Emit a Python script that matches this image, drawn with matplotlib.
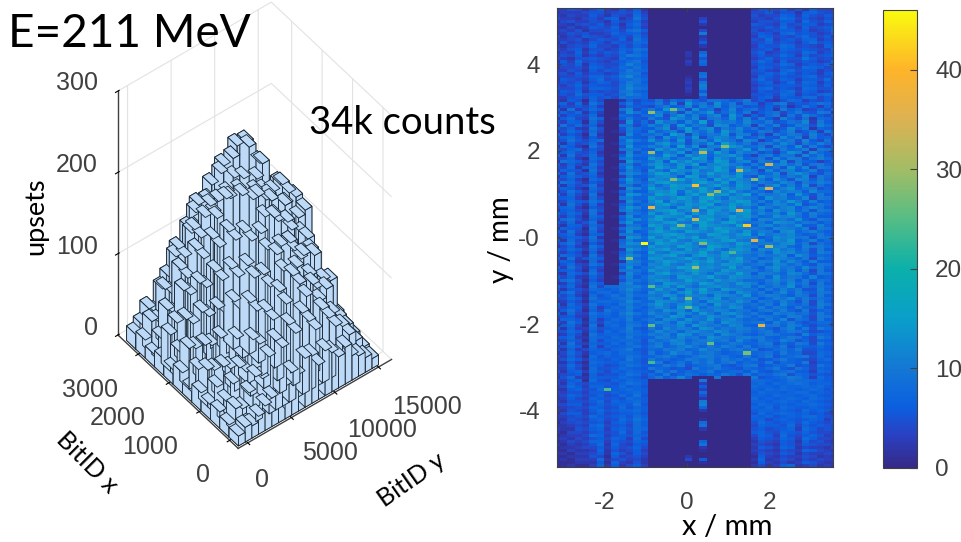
import matplotlib

matplotlib.use("Agg")
import matplotlib.pyplot as plt
import numpy as np
from matplotlib.colors import LinearSegmentedColormap

# counts per cell, one base-36 digit each, top row first (left | centre | right)
heat_rows = """
3354246325362 00000000000000 355463526443
2333455345473 00000000000000 446355267544
3243364254384 00000000000000 534476375465
4332453672495 00000003000000 443587464354
2453354264573 00000005000000 355466385476
3324546352684 00000002000000 654374566345
2242365473573 00000000000000 446485374567
3435244564896 00000004000000 534566463458
2354533475674 0000000a000000 465378565347
4243654356485 00000002000000 376454685463
3345246547396 00000003000000 548356477354
2534365365587 00000006000000 457465368565
3245474436475 00000002000000 365587454376
4356255347698 00000000000000 456376565448
2437364658586 00000207000000 573465487356
3546243547a97 00000209000000 464586374567
4325565438676 00000105000000 357465596454
2638454356895 00000308000000 586374465348
3547265447b86 00000207000000 465587356576
2445376458796 00000000000000 376465487645
3354264657a87 00000000000000 564378566354
4536355348995 00000008000000 457586465367
3445477569c86 00000109000000 376465578456
2654368458897 00000204000000 585476366584
3546257647a96 00000309000000 467358487365
4357465548b87 0000020b000000 356566576474
5446377658c98 0000030a000000 478465387556
3657254549a76 00000206000000 365578476345
4548566458b97 0000010a000000 556487365786
3356475649887 00000005000000 467376588465
3265174002746 59486a7599867a 463258735463
5738296006a57 7a5c3e8a5d7a49 8369a4657985
2546473003865 48a67c5b8c6a85 647482596374
6293586009c47 a6e8b4d7937c58 9572a6834758
4758263005d96 5b7a4c8ae58b6a 368947a65a92
7365482008758 8c49d7b6ac5e83 748a395b8647
2684397016a65 a75eb8c49a7d6b 5a63b7492875
5376184003d58 4d9a6c8f5b9a7c 87a5698c3a64
3958472009947 b8c5e7a94dc68a 3a7b46a95b86
6473295005b86 6ad49f7bd5a8c7 95846c7a2764
2586384014a75 c79b5ea8c6e9b6 6a958b4693a7
7364192002c68 8a6fc4b7a9d5ba 483a7a95b648
4785263009865 a5d8b7e49cb8d6 7a65c8b3a675
3596478007d97 d8a6e5bc7ea95c a36b8a5c6493
6274583018b66 7ce9b5a8d6fb8a 59a7c94a7b85
2863195005e78 b9c6f8d4ab7ec8 8a4b96d5a647
5478364009a96 6ead9c7fb5c8ae 6c95a78b3a96
3685472003c58 c7b9e5ad8fb6c9 a5738db4c865
7294583016d87 a8fc6ead7bcea6 39b6a94c7a64
4573186009b66 ebc7a9fd6eb8d7 8a5c7ba59b86
2986374002e97 9d6fbeac8fd7bc 5b96c4a76358
6374295008a58 cea8dbf6bcea96 a74ac8b59a75
5482683017d76 8fc9e6adbfc8ea 6b8a5d7c4a96
3765194005b85 da7fcbe9afd6bc 94c7ab68b574
7394582009ca7 bfe9c7dafbc8e9 a68c4bda7596
2686473003a66 9cdb6fe8cadbe7 5d9b7a8c3a85
5473186018e85 ecb8fadc7fbeca 8a6d95cb6a74
3985264006c97 aefcb9dfcae7db 7b98ca5a8b96
6274593009958 c8bfde9acfb8ec 95ad7b6c4965
4763185002db7 fb9edacfb7eadc 6ca8bd79a574
2596374017a66 bdcf8ebfcdbfa8 a85c9ba6c886
7384292005ec8 9fde7cfbade9cf 7b9ac6d85a65
5673184009b77 ebacfd9efb8dca 96dab78c4a96
3486597003d96 cf8ebdafcebcfe 8b7c9ea6b674
6295283016a68 adfb9ecdf8aebd a69cb8d57a85
4783164008eb7 fcb7edafbdcf9a 7da8bc69c964
2674395009c86 bdefacb9fdaecf 9b6dac7a5a96
7586293002a97 e9cfd8eafbc9de 8c9b7ea6b875
5374186017d68 afdcbf9edabfce a78dbc96a664
3895274006bc8 dfa9ebcdfb8edc 6cb9a8d75a96
6483592009e77 cbefa9dfcaefb9 9a7dcb8a9685
4276385003a96 fdacbe8fdcb9fe 7bc8a9d66b74
2765194018cb8 ae9fdcaebfdcba a97cba8b4a96
7394283005d67 dfcb9fecadfb9e 8ba6cd79b865
5683176009a96 bcefdab9fecadf 7d9bac867a74
3576492002ec8 fadbecf9bdeacb a68dbc9a5a96
6284385017b77 cebfa9dfcbefa9 9b7cae68b685
4795163008dc6 9fdcbeafdcb9fd 8ab9cd7a4974
2473296009a97 ebcafdb8fecadb a79bc86b9a86
7586384003eb8 cdfb9eacfb8dec 6cad9b7a5a65
5364172016b76 fa9decbfa9edcb 9a7dbc895b96
3875294007da7 bcefa8dfcbeab9 8b9ac6da6874
6293586009a86 edabcfb9eadcf9 a68cb97a4a85
4762183002ca7 9cfdbaecfb9dea 7bad8c96b664
2584397018b96 cbea9dfbcaedb8 9a7cb8a75a96
7395264006d68 adcbfe8cdbaf9c 86bd9a7c8a75
5674183009a97 ebc9adfcb9ecba a79c8b6a4a64
3286495003c86 9dfbcaeb8dcafb 6ba97cb85a96
6473274017b68 cba8edbcfa9dcb 9a7d8a96b675
4895163005a97 bdc9afcb9ebca8 87ac9b6a6984
2374286009c76 a8edbc9fdab9ec a69b7c8a4a65
7583194889ab8 cbd9ea8bcdb9ac 7b8a9d697a86
5265387679c97 9eac7dbfa8ecb9 96a7b8a55b74
3794268868a76 dab8cf9ebca7db 8a69c7b86a96
6473185797b88 a9ec8dba7dcb9e 79ba86a94a65
4586296689a67 cb7ead9cbe8ab9 a68b9c7a7985
2364178878c97 8dcb9ea7dcb9da 6a97b85a4a74
7285396769a78 bea8cd9b7eaca8 97a6c8794b96
5476283687b86 9ca7ebd8ab9dc7 8b7a96a76a65
3695174978a67 a8dbc7ea9cb8a9 69a8b75a4785
6284397869c97 c9a7db8ea7cda8 a76b9a895a74
4563286768a76 8b9ec7a9dba8c9 7a986ba74a96
2775183687b68 a7cb8da9e8bc97 86a7c5984a65
5396274876986 9ca7db8ca7dba8 9a6b8a756885
3684192786a97 b8a9c7eb9a8cb7 689a7b964774
6273385677b65 a7c9ba7dc8a9ba 8a759b6a5a86
4586274868a86 8c9a7bca9db8a9 79a68a974565
2374196776987 a9b7dc8ab7ca97 68a9775b6874
5683287687a76 7ba8c9a7db98ab 9a768a964a85
3475184778885 a89cb79ac9a7c8 6a87b9574764
6294376686975 8a7bc8a9b78a97 79a586a94a76
3586183767896 9b78ac97a8b97a 6897a5876865
5273476578a65 87a9b78c9a79a8 a56897a55764
2485267868875 a68c9a79a8678a 7896a7844875
4374185767986 79a8679ba8976a 68a5789a5864
3586376576a75 a7867a98a7a897 9568a7654785
2263187668875 8a5796a8b79a68 76a5876a3664
4485276457986 67a8a5789a6579 a5687a564975
3374185568765 a87564a78a7658 768a65974765
5267386476876 5a7a6878a67886 a65789663874
3456174557985 86a5798687a85a 6879a5875654
2583276668764 7a68c7000a0000 a5678a973865
4367185476876 0000000a000000 887679887765
4275466657986 00000003000000 786878986775
3486377568675 00000006000000 877687787865
2267458467876 00000003000000 768787678756
4355366576786 00000008000000 687767886765
3476457458695 00000005000000 776877678656
2364376565876 00000002000000 867678768765
3255468476786 0000000a000000 776787687654
4466357567695 0000000b000000 687676778765
2345476458576 00000007000000 768587667654
3254368567786 00000002000000 677676586765
2466357456675 00000000000000 586787675643
3345486567586 00000000000000 767567688654
2254367458697 00000001000000 674676567635
1345456367586 00000008000000 586567586545
2234378456486 00000009000000 476658475654
3225467367587 00000002000000 564567386454
2144356458485 00000000000000 675476575443
1233487356576 00000000000000 476385467534
2324356476384 00000000000000 365476386443
1243477365476 00000007000000 254365274532
2132358274365 00000009000000 343265365443
1223446364574 00000002000000 265376243324
1132237253463 00000001000000 343254376432
2213346275364 00000000000000 254365243343
1122254163453 00000200000000 163243354232
1213338245342 00000406000000 272354243433
1112226173252 00000001000000 163242365322
1121137262463 00000000000000 242367234232
"""

# cells too bright to fit the digit table: column, row, counts
hot_cols = [12, 19, 13, 26, 25, 19, 19, 29, 29, 25, 13, 20, 27, 23, 16, 13, 17, 21, 22, 16, 27,
            28, 21, 26, 13, 18, 18, 19, 10, 13, 29, 20, 7, 13, 24]
hot_rows = [77, 58, 65, 71, 66, 66, 69, 51, 59, 53, 47, 47, 76, 45, 33, 34, 71, 61, 60, 56, 56,
            104, 110, 113, 104, 95, 98, 85, 82, 91, 78, 77, 125, 116, 80]
hot_vals = [46, 41, 38, 42, 36, 33, 33, 34, 35, 33, 30, 32, 36, 28, 27, 29, 28, 28, 29, 28, 28,
            37, 26, 27, 26, 28, 26, 30, 28, 25, 30, 28, 24, 24, 24]

# upsets per bin, front edge (BitID x small) first, BitID y left to right
upsets = [
    [12, 18, 15, 22, 30, 35, 28, 40, 52, 45, 60, 58, 42, 55, 48, 38, 45, 30, 25, 18, 12],
    [15, 30, 25, 40, 55, 48, 70, 85, 72, 95, 80, 100, 85, 70, 90, 75, 60, 55, 40, 28, 15],
    [20, 28, 45, 60, 50, 85, 75, 110, 95, 125, 105, 135, 120, 100, 110, 85, 95, 60, 50, 35, 20],
    [18, 35, 55, 48, 80, 70, 115, 100, 140, 120, 155, 130, 160, 125, 135, 105, 85, 90, 85, 40, 22],
    [22, 45, 40, 75, 65, 110, 95, 145, 125, 175, 150, 185, 145, 170, 130, 115, 135, 110, 65, 35, 25],
    [15, 35, 60, 55, 95, 85, 135, 120, 170, 155, 205, 175, 190, 160, 175, 140, 150, 155, 100, 50, 20],
    [25, 50, 45, 85, 75, 125, 110, 165, 150, 200, 255, 195, 225, 180, 150, 185, 170, 160, 110, 60, 18],
    [18, 35, 70, 60, 105, 95, 150, 135, 190, 235, 190, 245, 170, 210, 160, 165, 170, 140, 95, 50, 22],
    [20, 45, 55, 90, 80, 130, 115, 175, 155, 215, 170, 230, 185, 155, 175, 155, 140, 110, 75, 45, 15],
    [15, 30, 60, 50, 100, 85, 140, 125, 165, 145, 190, 160, 175, 135, 120, 140, 120, 85, 55, 25, 12],
    [22, 40, 35, 70, 60, 110, 95, 120, 150, 130, 165, 140, 120, 130, 95, 80, 65, 50, 30, 22, 10],
    [18, 25, 40, 30, 55, 65, 85, 75, 110, 125, 105, 130, 95, 85, 75, 60, 45, 35, 25, 15, 8],
]

bit_x_ticks = [0, 1000, 2000, 3000]
bit_y_ticks = [0, 5000, 10000, 15000]
upset_ticks = [0, 100, 200, 300]
# colours at these counts
bar_counts = [0, 3, 6, 10, 15, 20, 25, 30, 35, 40, 46]
bar_colours = ["#352a87", "#2b3fc0", "#0b5fe0", "#1478d4", "#0a9fca", "#0bb0aa", "#55bd85",
               "#a2bd65", "#dcb253", "#feb32a", "#f9fb0e"]

GREY = "#404040"
plt.rcParams["font.family"] = ["Liberation Sans", "DejaVu Sans"]
plt.rcParams["grid.color"] = "#e2e2e2"
plt.rcParams["grid.linewidth"] = 0.8
plt.rcParams["axes.edgecolor"] = GREY

W, H = 962, 542
fig = plt.figure(figsize=(W / 100, H / 100), dpi=100)


def rect(left, top, right, bottom):
    return [left / W, 1 - bottom / H, (right - left) / W, (bottom - top) / H]


# 3d histogram
ax3 = fig.add_axes(rect(-2, -33, 498, 497), projection="3d")
ax3.set_proj_type("ortho")
ax3.view_init(elev=47.7, azim=-38.1)
ax3.set_box_aspect((1, 1, 1.86), zoom=0.884)
heights = np.array(upsets, dtype=float)
x_edges = np.linspace(-230, 3440, heights.shape[0] + 1)
y_edges = np.linspace(-900, 15175, heights.shape[1] + 1)
xx, yy = np.meshgrid(x_edges[:-1], y_edges[:-1], indexing="ij")
ax3.bar3d(xx.ravel(), yy.ravel(), np.zeros(heights.size),
          np.diff(x_edges)[0], np.diff(y_edges)[0], heights.ravel(),
          color="#bcdaf7", edgecolor="#15202c", linewidth=0.6, shade=False)
ax3.set_xlim(3667, -280)
ax3.set_ylim(-1100, 16500)
ax3.set_zlim(0, 300)
ax3.set_xticks(bit_x_ticks)
ax3.set_yticks(bit_y_ticks)
ax3.set_zticks(upset_ticks)
ax3.set_xticklabels([])
ax3.set_yticklabels([])
ax3.set_zticklabels([])
ax3.zaxis.set_ticks_position("lower")
for axis in (ax3.xaxis, ax3.yaxis, ax3.zaxis):
    axis.set_pane_color((1, 1, 1, 0))
    axis.pane.set_edgecolor("#e2e2e2")
    axis.line.set_color(GREY)
    axis.line.set_linewidth(1.0)
ax3.patch.set_alpha(0)

for label, px, py in zip(bit_x_ticks, [203, 150, 118, 90], [475, 447, 418, 390]):
    fig.text(px / W, 1 - py / H, str(label), color=GREY, fontsize=18, ha="center", va="center")
for label, px, py in zip(bit_y_ticks, [262, 330, 382, 427], [480, 453, 430, 407]):
    fig.text(px / W, 1 - py / H, str(label), color=GREY, fontsize=18, ha="center", va="center")
for label, py in zip(upset_ticks, [328, 247, 165, 83]):
    fig.text(98 / W, 1 - py / H, str(label), color=GREY, fontsize=18, ha="right", va="center")

label_font = ["Lato", "DejaVu Sans"]
fig.text(36 / W, 1 - 216 / H, "upsets", family=label_font, fontsize=19.5, rotation=90, ha="center", va="center")
fig.text(87 / W, 1 - 462 / H, "BitID x", family=label_font, fontsize=18, rotation=-45, ha="center", va="center")
fig.text(412 / W, 1 - 480 / H, "BitID y", family=label_font, fontsize=18, rotation=35, ha="center", va="center")
fig.text(8 / W, 1 - 34 / H, "E=211 MeV", family=label_font, fontsize=33, ha="left", va="center")
fig.text(309 / W, 1 - 123 / H, "34k counts", family=label_font, fontsize=27.5, ha="left", va="center")
fig.text(727 / W, 1 - 527 / H, "x / mm", family=label_font, fontsize=21, ha="center", va="center")
fig.text(501 / W, 1 - 240 / H, "y / mm", family=label_font, fontsize=20, rotation=90, ha="center", va="center")

# heat map
counts = np.array([[int(c, 36) for c in line.replace(" ", "")]
                   for line in heat_rows.strip().splitlines()], dtype=float)
counts[hot_rows, hot_cols] = hot_vals
cmap = LinearSegmentedColormap.from_list("parula", list(zip(np.array(bar_counts) / 46, bar_colours)))
ax = fig.add_axes(rect(556.7, 8, 833.3, 467))
col_edges = (552.67 + 7.33 * np.arange(counts.shape[1] + 1) - 687) / 41.0
row_edges = 5.3 - np.linspace(0, 10.6, counts.shape[0] + 1)
mesh = ax.pcolormesh(col_edges, row_edges, counts, cmap=cmap, vmin=0, vmax=46, rasterized=True)
ax.set_xlim((556.7 - 687) / 41.0, (833.3 - 687) / 41.0)
ax.set_ylim(-5.3, 5.3)
ax.set_xticks([-2, 0, 2], ["-2", "0", "2"])
ax.set_yticks([4, 2, 0, -2, -4], ["4", "2", "-0", "-2", "-4"])
ax.tick_params(direction="in", top=True, right=True, length=3, width=0.8, color=GREY,
               labelcolor=GREY, labelsize=17.5)
ax.tick_params(axis="x", pad=18)
ax.tick_params(axis="y", pad=12)

# colour bar
cax = fig.add_axes(rect(883.5, 10, 917, 467.5))
cbar = fig.colorbar(mesh, cax=cax)
cbar.set_ticks([0, 10, 20, 30, 40])
cax.tick_params(direction="in", length=5, width=0.8, color=GREY, labelcolor=GREY, labelsize=17.5, pad=13)
cbar.outline.set_edgecolor(GREY)

fig.savefig("out.png", dpi=100)
